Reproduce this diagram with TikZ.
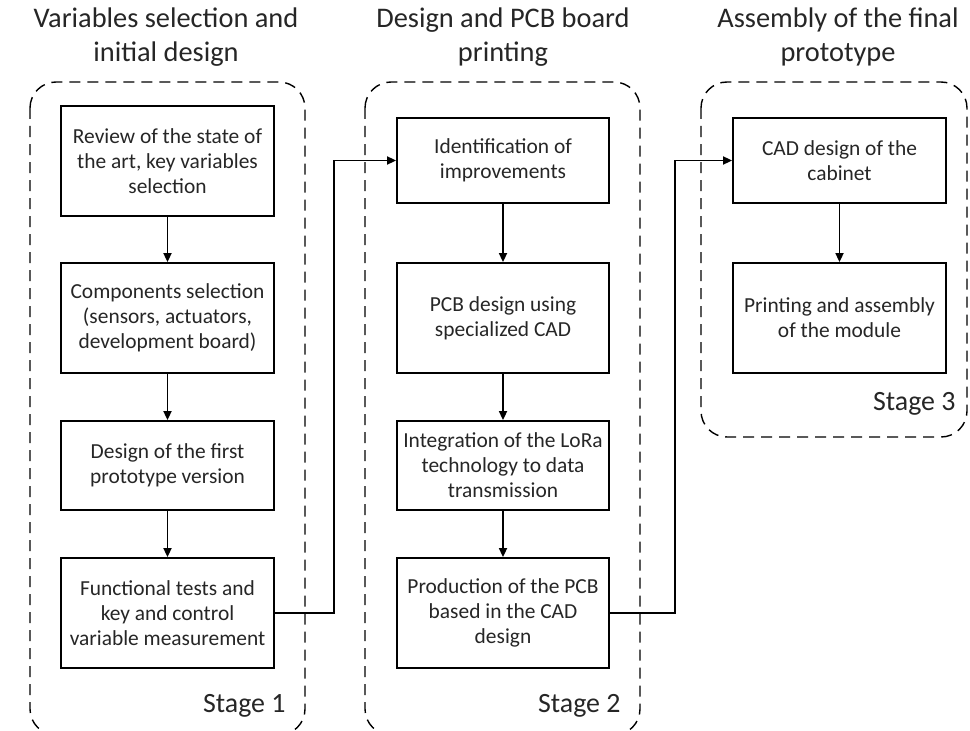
\documentclass[tikz,border=0pt]{standalone}
\usepackage{fontspec}
\setmainfont{Carlito}
\usetikzlibrary{arrows.meta}
\tikzset{
  stagebox/.style={draw, line width=1.4bp, dash pattern=on 11bp off 7bp, rounded corners=26bp},
  procbox/.style={draw, line width=1.8bp, align=center, inner sep=2bp,
    font=\fontsize{21.5}{25}\selectfont, text=black!85},
  titletext/.style={align=center, font=\fontsize{28.5}{34}\selectfont, text=black!85},
  stagelabel/.style={anchor=east, font=\fontsize{28}{30}\selectfont, text=black!85},
  flow/.style={line width=1.7bp, -{Triangle[length=9bp,width=8bp]}},
  link/.style={line width=1.7bp, -{Triangle[length=9bp,width=8bp]}}
}
\begin{document}
\begin{tikzpicture}[x=1bp,y=-1bp]
\useasboundingbox (0,0) rectangle (970,731);
\clip (0,0) rectangle (970,731);
\fill[white] (0,0) rectangle (970,731);
% stage containers
\draw[stagebox] (30,82) rectangle (305,735);
\draw[stagebox] (365,82) rectangle (640,735);
\draw[stagebox] (701,82) rectangle (967,437);
% titles
\node[titletext] (t1) at (166,37) {Variables selection and\\initial design};
\node[titletext] (t2) at (503,37) {Design and PCB board\\printing};
\node[titletext] (t3) at (838,37) {Assembly of the final\\prototype};
% stage labels
\node[stagelabel] (s1) at (289,706) {Stage 1};
\node[stagelabel] (s2) at (624,706) {Stage 2};
\node[stagelabel] (s3) at (959,404) {Stage 3};
% stage 1 boxes
\node[procbox, minimum width=213bp, minimum height=110bp] (b1) at (167.5,161) {Review of the state of\\the art, key variables\\selection};
\node[procbox, minimum width=213bp, minimum height=110bp] (b2) at (167.5,318) {Components selection\\(sensors, actuators,\\development board)};
\node[procbox, minimum width=213bp, minimum height=89bp] (b3) at (167.5,465.5) {Design of the first\\prototype version};
\node[procbox, minimum width=213bp, minimum height=110bp] (b4) at (167.5,613) {Functional tests and\\key and control\\variable measurement};
% stage 2 boxes
\node[procbox, minimum width=212bp, minimum height=85bp] (c1) at (503,160.5) {Identification of\\improvements};
\node[procbox, minimum width=212bp, minimum height=110bp] (c2) at (503,318) {PCB design using\\specialized CAD};
\node[procbox, minimum width=212bp, minimum height=89bp] (c3) at (503,465.5) {Integration of the LoRa\\technology to data\\transmission};
\node[procbox, minimum width=212bp, minimum height=110bp] (c4) at (503,613) {Production of the PCB\\based in the CAD\\design};
% stage 3 boxes
\node[procbox, minimum width=213bp, minimum height=85bp] (d1) at (839.5,160.5) {CAD design of the\\cabinet};
\node[procbox, minimum width=213bp, minimum height=110bp] (d2) at (839.5,318) {Printing and assembly\\of the module};
% flows
\draw[flow] (b1) -- (b2);
\draw[flow] (b2) -- (b3);
\draw[flow] (b3) -- (b4);
\draw[flow] (c1) -- (c2);
\draw[flow] (c2) -- (c3);
\draw[flow] (c3) -- (c4);
\draw[flow] (d1) -- (d2);
\draw[link] (b4.east) -- ++(59,0) |- (c1.west);
\draw[link] (c4.east) -- ++(65,0) |- (d1.west);
\end{tikzpicture}
\end{document}
